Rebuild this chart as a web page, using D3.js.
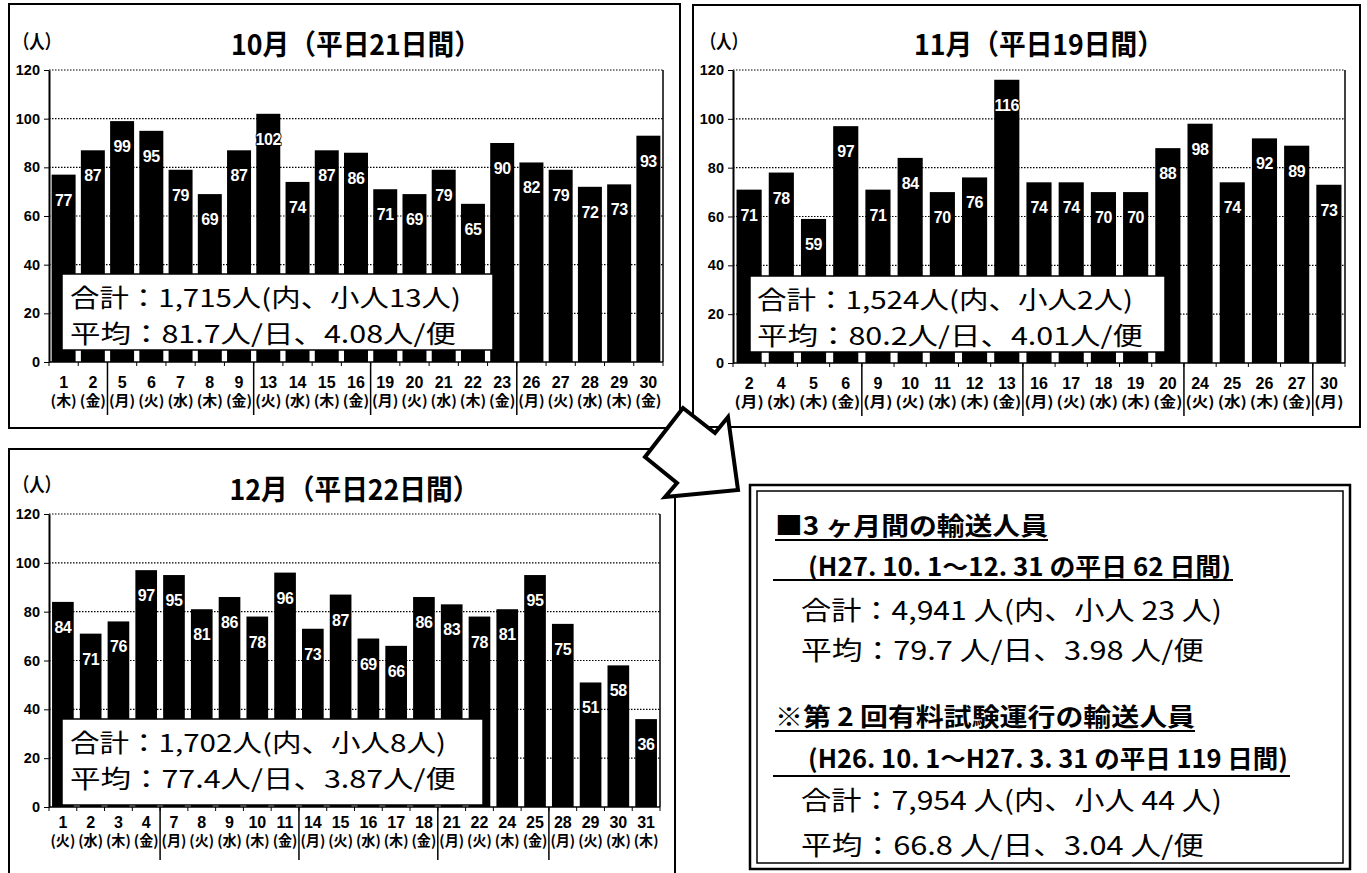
<!DOCTYPE html>
<html lang="ja">
<head>
<meta charset="UTF-8">
<title>輸送人員（10月〜12月）</title>
<script src="https://cdn.jsdelivr.net/npm/d3@7"></script>
<style>
    body { margin: 0; background: #fff; }
    svg { display: block; }
</style>
</head>
<body>
<div id="chart"></div>
<script>
// 各月の平日と輸送人員
const octDays = [1, 2, 5, 6, 7, 8, 9, 13, 14, 15, 16, 19, 20, 21, 22, 23, 26, 27, 28, 29, 30];
const octWeekdays = ["木", "金", "月", "火", "水", "木", "金", "火", "水", "木", "金", "月", "火", "水", "木", "金", "月", "火", "水", "木", "金"];
const octValues = [77, 87, 99, 95, 79, 69, 87, 102, 74, 87, 86, 71, 69, 79, 65, 90, 82, 79, 72, 73, 93];

const novDays = [2, 4, 5, 6, 9, 10, 11, 12, 13, 16, 17, 18, 19, 20, 24, 25, 26, 27, 30];
const novWeekdays = ["月", "水", "木", "金", "月", "火", "水", "木", "金", "月", "火", "水", "木", "金", "火", "水", "木", "金", "月"];
const novValues = [71, 78, 59, 97, 71, 84, 70, 76, 116, 74, 74, 70, 70, 88, 98, 74, 92, 89, 73];

const decDays = [1, 2, 3, 4, 7, 8, 9, 10, 11, 14, 15, 16, 17, 18, 21, 22, 24, 25, 28, 29, 30, 31];
const decWeekdays = ["火", "水", "木", "金", "月", "火", "水", "木", "金", "月", "火", "水", "木", "金", "月", "火", "木", "金", "月", "火", "水", "木"];
const decValues = [84, 71, 76, 97, 95, 81, 86, 78, 96, 73, 87, 69, 66, 86, 83, 78, 81, 95, 75, 51, 58, 36];

const monthTitles = ["10月（平日21日間）", "11月（平日19日間）", "12月（平日22日間）"];
const octSummary = ["合計：1,715人(内、小人13人)", "平均：81.7人/日、4.08人/便"];
const novSummary = ["合計：1,524人(内、小人2人)", "平均：80.2人/日、4.01人/便"];
const decSummary = ["合計：1,702人(内、小人8人)", "平均：77.4人/日、3.87人/便"];

const yTicks = [0, 20, 40, 60, 80, 100, 120];

const totalHeads = ["■3 ヶ月間の輸送人員", "(H27. 10. 1～12. 31 の平日 62 日間)",
                    "※第 2 回有料試験運行の輸送人員", "(H26. 10. 1～H27. 3. 31 の平日 119 日間)"];
const totalLines = ["合計：4,941 人(内、小人 23 人)", "平均：79.7 人/日、3.98 人/便",
                    "合計：7,954 人(内、小人 44 人)", "平均：66.8 人/日、3.04 人/便"];

const weekOrder = ["月", "火", "水", "木", "金"];
const latin = "'Liberation Sans', Arial, sans-serif";
const narrow = "'Liberation Sans Narrow', 'Liberation Sans', Arial, sans-serif";
const jp = "'Noto Sans CJK JP', 'Noto Sans', sans-serif";

const width = 1367, height = 873;
const svg = d3.select("#chart").append("svg")
    .attr("width", width).attr("height", height);

// layout of each month panel
const panels = [
    { days: octDays, wds: octWeekdays, values: octValues, title: monthTitles[0], sum: octSummary,
      box: [9, 4, 680, 428], plot: [49, 70, 663, 362], pad: 0.18, titleY: 55, unit: [14, 49],
      sumBox: [62, 274, 493, 350], sumX: 70, sumBase: [307, 343], sumLen: [391, 386],
      dayY: 388, wdY: 406, sepY: 415 },
    { days: novDays, wds: novWeekdays, values: novValues, title: monthTitles[1], sum: novSummary,
      box: [693, 5, 1360, 427], plot: [733, 70, 1345, 363], pad: 0.22, titleY: 55, unit: [701, 49],
      sumBox: [750, 276, 1165, 352], sumX: 757, sumBase: [309, 345], sumLen: [376, 386],
      dayY: 389, wdY: 407, sepY: 416 },
    { days: decDays, wds: decWeekdays, values: decValues, title: monthTitles[2], sum: decSummary,
      box: [9, 449, 675, 890], plot: [49, 514, 660, 807], pad: 0.22, titleY: 500, unit: [14, 492],
      sumBox: [62, 719, 483, 805], sumX: 70, sumBase: [752, 788], sumLen: [376, 386],
      dayY: 828, wdY: 846, sepY: 860 }
];

panels.forEach(p => {
    const g = svg.append("g");
    const [bx0, by0, bx1, by1] = p.box;
    const [x0, y0, x1, y1] = p.plot;

    g.append("rect")
        .attr("x", bx0).attr("y", by0)
        .attr("width", bx1 - bx0).attr("height", by1 - by0)
        .attr("fill", "#fff").attr("stroke", "#000").attr("stroke-width", 2);

    const x = d3.scaleBand()
        .domain(p.days.map(String))
        .range([x0, x1])
        .paddingInner(p.pad)
        .paddingOuter(p.pad / 2);
    const y = d3.scaleLinear().domain([0, 120]).range([y1, y0]);
    const step = x.step();

    // title and unit
    g.append("text")
        .attr("x", (x0 + x1) / 2 - 125).attr("y", p.titleY)
        .attr("textLength", 250).attr("lengthAdjust", "spacingAndGlyphs")
        .attr("font-family", jp).attr("font-weight", "bold").attr("font-size", 28)
        .text(p.title);
    g.append("text")
        .attr("x", p.unit[0]).attr("y", p.unit[1])
        .attr("textLength", 46).attr("lengthAdjust", "spacingAndGlyphs")
        .attr("font-family", jp).attr("font-weight", "bold").attr("font-size", 19)
        .text("（人）");

    // grid lines
    g.append("g").selectAll("line")
        .data(yTicks.filter(t => t > 0))
        .join("line")
        .attr("x1", x0).attr("x2", x1)
        .attr("y1", d => y(d)).attr("y2", d => y(d))
        .attr("stroke", "#000").attr("stroke-width", 1.2)
        .attr("stroke-dasharray", "1.5,1.5");
    g.append("line")
        .attr("x1", x1).attr("x2", x1).attr("y1", y0).attr("y2", y1)
        .attr("stroke", "#000").attr("stroke-width", 1.5);

    // bars
    g.append("g").selectAll("rect")
        .data(p.values)
        .join("rect")
        .attr("x", (d, i) => x(String(p.days[i])))
        .attr("y", d => y(d))
        .attr("width", x.bandwidth())
        .attr("height", d => y(0) - y(d))
        .attr("fill", "#000");

    // value labels
    g.append("g").selectAll("text")
        .data(p.values)
        .join("text")
        .attr("x", (d, i) => x(String(p.days[i])) + x.bandwidth() / 2)
        .attr("y", d => y(d) + 31)
        .attr("text-anchor", "middle")
        .attr("font-family", latin).attr("font-weight", "bold").attr("font-size", 16)
        .attr("fill", "#fff").attr("stroke", "#000").attr("stroke-width", 1.6)
        .attr("paint-order", "stroke")
        .attr("letter-spacing", -0.4)
        .text(d => d);

    // y axis
    const yAxis = g.append("g")
        .attr("transform", `translate(${x0},0)`)
        .call(d3.axisLeft(y).tickValues(yTicks).tickSize(5).tickSizeOuter(0).tickPadding(4));
    yAxis.select(".domain").attr("stroke-width", 2);
    yAxis.selectAll("text")
        .attr("font-family", latin).attr("font-weight", "bold").attr("font-size", 14.5)
        .attr("fill", "#000");

    // x axis
    g.append("line")
        .attr("x1", x0).attr("x2", x1).attr("y1", y1).attr("y2", y1)
        .attr("stroke", "#000").attr("stroke-width", 1.5);
    g.append("g").selectAll("line")
        .data(d3.range(p.days.length + 1))
        .join("line")
        .attr("x1", i => x0 + i * step).attr("x2", i => x0 + i * step)
        .attr("y1", y1).attr("y2", y1 + 4)
        .attr("stroke", "#000").attr("stroke-width", 1);

    // week separators
    const seps = d3.range(1, p.days.length)
        .filter(i => weekOrder.indexOf(p.wds[i]) <= weekOrder.indexOf(p.wds[i - 1]));
    g.append("g").selectAll("line")
        .data(seps)
        .join("line")
        .attr("x1", i => x0 + i * step).attr("x2", i => x0 + i * step)
        .attr("y1", y1).attr("y2", p.sepY)
        .attr("stroke", "#000").attr("stroke-width", 1.5);

    g.append("g").selectAll("text")
        .data(p.days)
        .join("text")
        .attr("x", d => x(String(d)) + x.bandwidth() / 2)
        .attr("y", p.dayY)
        .attr("text-anchor", "middle")
        .attr("font-family", narrow).attr("font-weight", "bold").attr("font-size", 16)
        .text(d => d);
    g.append("g").selectAll("text")
        .data(p.wds)
        .join("text")
        .attr("x", (d, i) => x(String(p.days[i])) + x.bandwidth() / 2 - (step - 3) / 2)
        .attr("y", p.wdY)
        .attr("textLength", step - 3).attr("lengthAdjust", "spacingAndGlyphs")
        .attr("font-family", jp).attr("font-weight", "bold").attr("font-size", 14.5)
        .text(d => `(${d})`);

    // monthly summary box
    const [sx0, sy0, sx1, sy1] = p.sumBox;
    g.append("rect")
        .attr("x", sx0).attr("y", sy0)
        .attr("width", sx1 - sx0).attr("height", sy1 - sy0)
        .attr("fill", "#fff").attr("stroke", "#000").attr("stroke-width", 1.5);
    p.sum.forEach((s, i) => {
        g.append("text")
            .attr("x", p.sumX).attr("y", p.sumBase[i])
            .attr("textLength", p.sumLen[i]).attr("lengthAdjust", "spacingAndGlyphs")
            .attr("font-family", jp).attr("font-size", 24.5)
            .text(s);
    });
});

// arrow between the panels
svg.append("polygon")
    .attr("points", [[683, 408], [715, 433], [728, 417], [738, 490], [665, 497], [677, 483], [645, 457]]
        .map(d => d.join(",")).join(" "))
    .attr("fill", "#fff").attr("stroke", "#000").attr("stroke-width", 4)
    .attr("stroke-linejoin", "miter");

// overall summary box
const tg = svg.append("g");
tg.append("rect").attr("x", 750).attr("y", 485).attr("width", 600).attr("height", 384)
    .attr("fill", "#fff").attr("stroke", "#000").attr("stroke-width", 2.5);
tg.append("rect").attr("x", 757).attr("y", 491).attr("width", 586).attr("height", 372)
    .attr("fill", "none").attr("stroke", "#000").attr("stroke-width", 1.5);

const headSpec = [
    { x: 775, y: 535, len: 273, ux: [775, 1048], uy: 540 },
    { x: 808, y: 576, len: 423, ux: [773, 1233], uy: 580 },
    { x: 775, y: 726, len: 420, ux: [775, 1195], uy: 731 },
    { x: 808, y: 768, len: 480, ux: [773, 1290], uy: 776 }
];
totalHeads.forEach((s, i) => {
    const h = headSpec[i];
    tg.append("text")
        .attr("x", h.x).attr("y", h.y)
        .attr("textLength", h.len).attr("lengthAdjust", "spacingAndGlyphs")
        .attr("font-family", jp).attr("font-weight", "bold").attr("font-size", 25)
        .text(s);
    tg.append("line")
        .attr("x1", h.ux[0]).attr("x2", h.ux[1]).attr("y1", h.uy).attr("y2", h.uy)
        .attr("stroke", "#000").attr("stroke-width", 2);
});

const lineSpec = [
    { y: 620, len: 421 }, { y: 660, len: 403 },
    { y: 810, len: 421 }, { y: 855, len: 403 }
];
totalLines.forEach((s, i) => {
    tg.append("text")
        .attr("x", 801).attr("y", lineSpec[i].y)
        .attr("textLength", lineSpec[i].len).attr("lengthAdjust", "spacingAndGlyphs")
        .attr("font-family", jp).attr("font-size", 26)
        .text(s);
});
</script>
</body>
</html>
